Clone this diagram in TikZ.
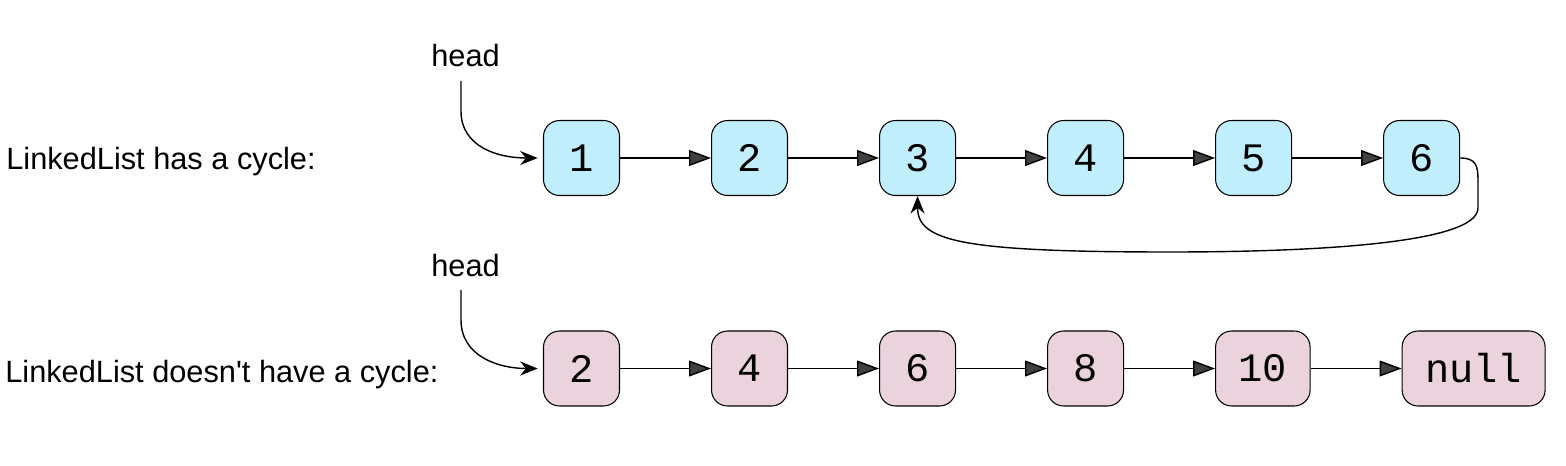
\documentclass[tikz,border=0pt]{standalone}
\usepackage{fontspec}
\setmainfont{Liberation Sans}
\setmonofont{Liberation Mono}
\usetikzlibrary{positioning,arrows.meta}

\definecolor{cyclefill}{HTML}{C0EEFC}
\definecolor{listfill}{HTML}{EBD3DD}
\definecolor{tipfill}{HTML}{404040}

\tikzset{
    listnode/.style={draw, line width=0.6pt, rounded corners=0.32cm,
        minimum width=1.52cm, minimum height=1.5cm, inner xsep=0.46cm,
        font=\ttfamily\fontsize{23}{23}\selectfont},
    nextarrow/.style={line width=0.8pt,
        -{Triangle[length=12.5pt, width=9pt, fill=tipfill]}},
    headarrow/.style={line width=0.8pt, -{Stealth[length=10pt, width=8pt]}},
    plaintext/.style={inner sep=0pt, font=\fontsize{17.5}{17.5}\selectfont}
}

\begin{document}
\begin{tikzpicture}[x=0.02cm, y=-0.02cm, node distance=1.82cm]
        \useasboundingbox (0,0) rectangle (1566,466);

        % Coordinates
        \coordinate (H1) at (461,81);
        \coordinate (H2) at (461,290);
        \coordinate (B1) at (1478,180);
        \coordinate (B2) at (1478,208);
        \coordinate (B3) at (1170,252);

        % Labels
        \node[plaintext, anchor=base west] (cyclelabel) at (6,170) {LinkedList has a cycle:};
        \node[plaintext, anchor=base west] (nocyclelabel) at (5,382) {LinkedList doesn\textquotesingle t have a cycle:};
        \node[plaintext, anchor=base west] (head1) at (431,67) {head};
        \node[plaintext, anchor=base west] (head2) at (431,276) {head};

        % List with a cycle
        \node[listnode, fill=cyclefill] (c1) at (581.5,158) {1};
        \node[listnode, fill=cyclefill, right=of c1] (c2) {2};
        \node[listnode, fill=cyclefill, right=of c2] (c3) {3};
        \node[listnode, fill=cyclefill, right=of c3] (c4) {4};
        \node[listnode, fill=cyclefill, right=of c4] (c5) {5};
        \node[listnode, fill=cyclefill, right=of c5] (c6) {6};

        % List without a cycle
        \node[listnode, fill=listfill] (n1) at (581.5,368.5) {2};
        \node[listnode, fill=listfill, right=of n1] (n2) {4};
        \node[listnode, fill=listfill, right=of n2] (n3) {6};
        \node[listnode, fill=listfill, right=of n3] (n4) {8};
        \node[listnode, fill=listfill, right=of n4] (n5) {10};
        \node[listnode, fill=listfill, right=of n5] (n6) {null};

        % Drawing
        \draw[nextarrow] (c1) -- (c2);
        \draw[nextarrow] (c2) -- (c3);
        \draw[nextarrow] (c3) -- (c4);
        \draw[nextarrow] (c4) -- (c5);
        \draw[nextarrow] (c5) -- (c6);
        \draw[nextarrow] (n1) -- (n2);
        \draw[nextarrow] (n2) -- (n3);
        \draw[nextarrow] (n3) -- (n4);
        \draw[nextarrow] (n4) -- (n5);
        \draw[nextarrow] (n5) -- (n6);

        \draw[headarrow, shorten >=3pt] (H1) -- ++(0,30) .. controls +(0,36) and +(-45,0) .. (c1.west);
        \draw[headarrow, shorten >=3pt] (H2) -- ++(0,30) .. controls +(0,36) and +(-45,0) .. (n1.west);

        \draw[headarrow] (c6.east) .. controls +(16,0) and +(0,-14) .. (B1) -- (B2)
            .. controls +(0,37) and +(130,0) .. (B3)
            .. controls +(-210,0) and +(0,45) .. (c3.south);
    \end{tikzpicture}
\end{document}
